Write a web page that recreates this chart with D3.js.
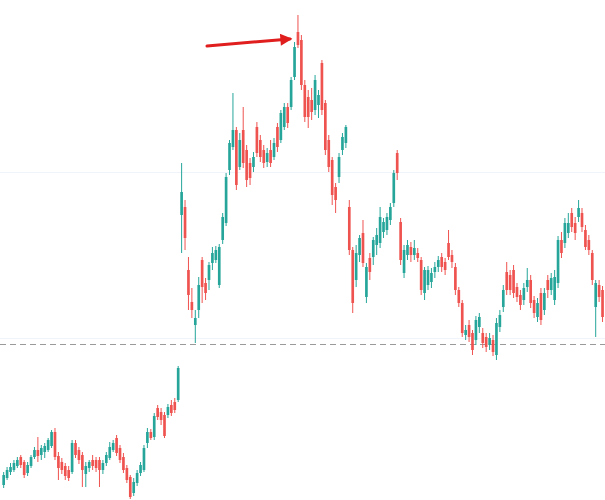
<!DOCTYPE html>
<html><head><meta charset="utf-8">
<script src="https://cdn.jsdelivr.net/npm/d3@7/dist/d3.min.js"></script>
<style>html,body{margin:0;padding:0;background:#fff;}svg{display:block;}</style>
</head><body>
<svg id="chart" width="605" height="500"></svg>
<script>
// OHLC values (price units)
const openVals = [15,22,28,30,34,43,38,27,34,43,50,45,48,50,54,68,44,38,34,30,28,57,50,45,26,32,40,40,40,30,37,42,50,62,52,43,32,23,7,17,27,30,57,68,63,92,88,85,85,95,98,100,
285,293,230,198,175,190,240,217,220,237,240,215,260,277,330,353,370,333,370,350,337,333,373,360,350,338,350,343,373,360,373,393,393,423,468,460,415,403,400,390,395,437,397,360,340,313,323,350,357,
293,250,220,245,267,203,242,243,255,257,268,270,280,297,347,278,227,245,253,245,247,240,207,215,218,228,233,243,238,257,245,233,210,197,165,175,167,160,173,167,163,155,160,145,173,193,228,225,230,213,205,200,213,220,200,183,207,190,220,210,200,217,260,257,267,287,277,283,287,270,260,247,193,215,210];
const highVals = [28,33,37,40,43,45,40,38,45,53,63,55,57,62,70,72,48,42,37,34,60,60,53,48,38,40,45,43,43,40,48,58,60,65,55,47,35,25,22,30,38,55,72,71,87,95,92,88,96,100,102,134,
337,300,243,212,190,223,243,222,238,253,254,256,287,327,360,407,373,367,393,355,342,348,378,365,355,352,360,362,377,390,397,397,423,458,485,465,420,410,412,425,410,440,400,365,343,317,347,367,375,
300,253,255,265,280,237,247,263,272,293,282,287,297,330,350,282,255,260,258,260,252,243,233,234,232,238,244,247,242,270,250,237,213,200,175,180,170,184,187,172,167,167,165,182,190,215,238,230,235,217,210,217,232,225,204,202,212,212,225,227,230,264,268,282,287,292,283,300,292,275,265,250,220,220,214];
const lowVals = [12,20,25,28,32,32,22,24,32,41,38,40,42,48,52,40,20,26,20,19,26,42,36,13,13,28,30,28,13,26,34,40,48,44,37,27,17,1,4,14,24,28,52,60,60,80,75,62,82,84,87,98,
247,250,190,182,157,182,197,200,210,230,237,212,256,274,325,350,310,330,332,313,315,328,343,338,332,333,333,340,348,357,370,372,390,420,452,410,378,372,380,385,382,385,345,328,295,287,317,345,352,
245,187,213,238,233,197,220,235,245,252,262,265,275,293,320,235,222,240,238,240,238,205,200,210,212,222,228,228,225,240,232,205,193,163,160,158,145,155,167,152,148,150,144,140,168,188,205,205,202,198,190,195,208,192,182,178,175,185,202,205,195,212,242,252,262,268,260,278,268,250,245,215,163,198,178];
const closeVals = [25,30,33,37,40,35,25,35,43,50,44,52,54,60,68,43,32,30,24,22,57,45,40,30,34,38,34,32,30,37,45,53,57,47,40,30,20,3,18,27,35,52,68,62,84,83,80,64,93,87,90,132,
308,262,205,190,182,215,213,207,235,247,250,253,283,323,357,370,315,360,337,320,322,343,347,343,337,347,337,357,353,387,393,377,420,453,455,415,383,383,388,420,405,390,350,333,305,300,343,363,373,
250,197,247,262,237,233,228,260,265,283,278,283,293,327,327,240,250,255,245,252,242,210,230,230,227,233,240,233,230,243,238,210,197,167,170,163,150,180,183,157,153,162,148,177,185,210,210,210,207,203,195,212,220,197,187,197,180,207,210,222,223,260,247,277,277,273,267,292,273,253,250,220,217,203,183];
const referenceLevel = 156;   // dashed horizontal level
const gridLevels = [328, 162];

const W = 605, H = 500;
const N = openVals.length;
const data = d3.range(N).map(i => ({i, o: openVals[i], h: highVals[i], l: lowVals[i], c: closeVals[i]}));

const svg = d3.select('#chart');
const x = d3.scaleBand().domain(d3.range(N)).range([1.3, 604.9]).paddingInner(0.22).paddingOuter(0.3);
const y = d3.scaleLinear().domain([0, 500]).range([H, 0]);

const up = '#26a69a', down = '#ef5350';

svg.append('g').selectAll('line').data(gridLevels).join('line')
  .attr('x1', 0).attr('x2', W)
  .attr('y1', d => Math.round(y(d)) + 0.5).attr('y2', d => Math.round(y(d)) + 0.5)
  .attr('stroke', '#f0f3fa').attr('stroke-width', 1);

svg.append('line')
  .attr('x1', 0).attr('x2', W)
  .attr('y1', Math.round(y(referenceLevel)) + 0.5).attr('y2', Math.round(y(referenceLevel)) + 0.5)
  .attr('stroke', '#9a9a9a').attr('stroke-width', 1).attr('stroke-dasharray', '6,4');

const g = svg.append('g');
const cx = d => x(d.i) + x.bandwidth() / 2;
g.selectAll('line.wick').data(data).join('line').attr('class', 'wick')
  .attr('x1', cx).attr('x2', cx)
  .attr('y1', d => y(d.h)).attr('y2', d => y(d.l))
  .attr('stroke', d => d.c >= d.o ? up : down).attr('stroke-width', 1);
g.selectAll('rect.body').data(data).join('rect').attr('class', 'body')
  .attr('x', d => x(d.i)).attr('width', x.bandwidth())
  .attr('y', d => y(Math.max(d.o, d.c)))
  .attr('height', d => Math.max(1, Math.abs(y(d.o) - y(d.c))))
  .attr('fill', d => d.c >= d.o ? up : down);

// red arrow pointing at the peak
const defs = svg.append('defs');
defs.append('marker').attr('id', 'ah').attr('viewBox', '0 0 10 10')
  .attr('refX', 8).attr('refY', 5).attr('markerWidth', 4.5).attr('markerHeight', 4)
  .attr('orient', 'auto').append('path').attr('d', 'M0,0 L10,5 L0,10 Z').attr('fill', '#e01e1e');
const peak = data.reduce((a, b) => b.h > a.h ? b : a);
svg.append('line')
  .attr('x1', 207).attr('y1', 46)
  .attr('x2', cx(peak) - 8).attr('y2', y(peak.h) + 24)
  .attr('stroke', '#e01e1e').attr('stroke-width', 3).attr('stroke-linecap', 'round')
  .attr('marker-end', 'url(#ah)');
</script>
</body></html>
